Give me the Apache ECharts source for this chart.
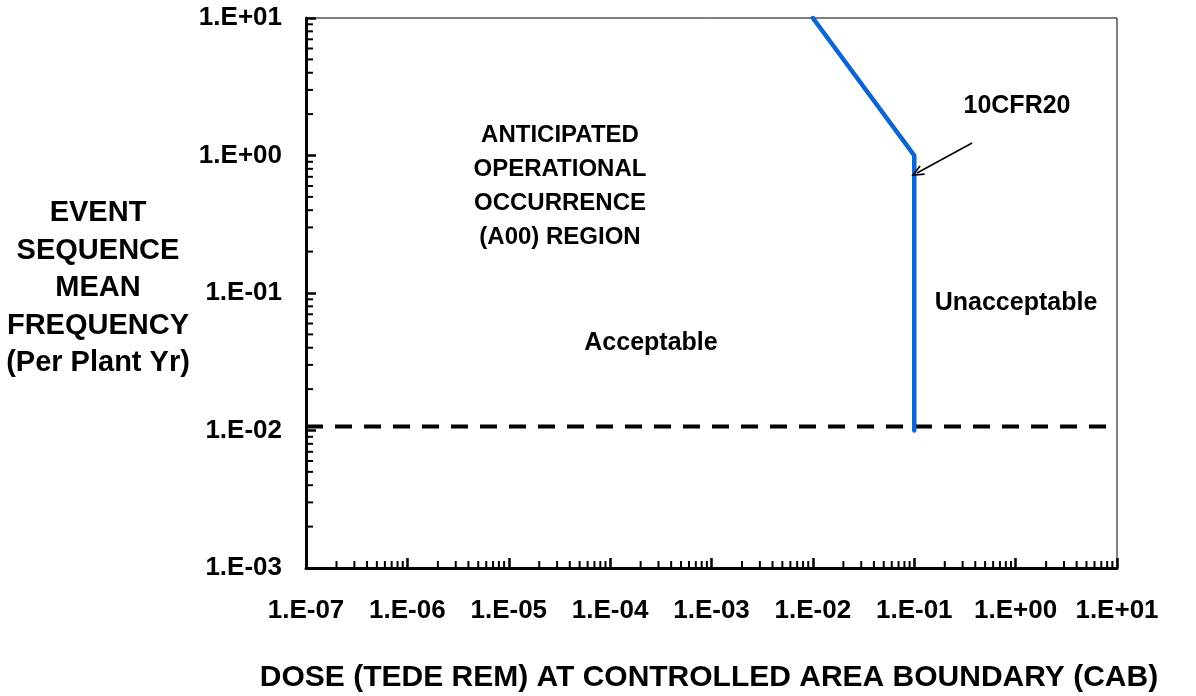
<!DOCTYPE html>
<html>
<head>
<meta charset="utf-8">
<script src="https://cdn.jsdelivr.net/npm/echarts@6/dist/echarts.min.js"></script>
<style>
  html, body { margin: 0; padding: 0; background: #fff; }
  #chart { width: 1196px; height: 696px; }
</style>
</head>
<body>
<div id="chart"></div>
<script>
// Dose axis (rem) and frequency axis (per plant year) ranges
const doseRange = [1e-7, 10];
const freqRange = [1e-3, 10];

// 10CFR20 limit line: dose vs. frequency
const limitDose = [0.01, 0.1, 0.1];
const limitFreq = [10, 1, 0.01];

// AOO frequency cut-off (dashed)
const aooDose = [1e-7, 10];
const aooFreq = [0.0107, 0.0107];

// Arrow pointing at the 10CFR20 corner: tail, head
const arrowDose = [0.372, 0.1064];
const arrowFreq = [1.233, 0.746];

// Decades and the in-between multipliers used for the minor tick marks
const doseDecades = [1e-7, 1e-6, 1e-5, 1e-4, 1e-3, 1e-2, 1e-1, 1];
const freqDecades = [1e-3, 1e-2, 1e-1, 1];
const minorSteps = [2, 3, 4, 5, 6, 7, 8, 9];

const FONT = "'Liberation Sans', Arial, Helvetica, sans-serif";

function sciLabel(v) {
  const e = Math.round(Math.log10(v));
  const s = e < 0 ? '-' : '+';
  return '1.E' + s + String(Math.abs(e)).padStart(2, '0');
}

const xMinor = [];
doseDecades.forEach(d => minorSteps.forEach(m => xMinor.push([d * m, freqRange[0]])));
const yMinor = [];
freqDecades.forEach(d => minorSteps.forEach(m => yMinor.push([doseRange[0], d * m])));

const chart = echarts.init(document.getElementById('chart'), null, { renderer: 'canvas' });

const option = {
  animation: false,
  backgroundColor: '#fff',
  grid: {
    left: 306, right: 79, top: 18, bottom: 128,
    show: true, borderColor: '#000', borderWidth: 1, backgroundColor: 'transparent'
  },
  xAxis: {
    type: 'log', logBase: 10, min: doseRange[0], max: doseRange[1], splitNumber: 8,
    axisLine: { show: true, lineStyle: { color: '#000', width: 3 } },
    axisTick: { show: true, inside: true, length: 10, lineStyle: { color: '#000', width: 2.5 } },
    splitLine: { show: false },
    axisLabel: {
      formatter: sciLabel, margin: 30, color: '#000',
      fontFamily: FONT, fontWeight: 'bold', fontSize: 26
    }
  },
  yAxis: {
    type: 'log', logBase: 10, min: freqRange[0], max: freqRange[1], splitNumber: 4,
    axisLine: { show: true, lineStyle: { color: '#000', width: 3 } },
    axisTick: { show: true, inside: true, length: 10, lineStyle: { color: '#000', width: 2.5 } },
    splitLine: { show: false },
    axisLabel: {
      formatter: sciLabel, margin: 24, color: '#000',
      fontFamily: FONT, fontWeight: 'bold', fontSize: 26
    }
  },
  series: [
    {
      name: 'AOO cut-off',
      type: 'line',
      data: aooDose.map((d, i) => [d, aooFreq[i]]),
      showSymbol: false,
      lineStyle: { color: '#000', width: 4, type: [17, 12] },
      z: 3
    },
    {
      name: '10CFR20',
      type: 'line',
      data: limitDose.map((d, i) => [d, limitFreq[i]]),
      showSymbol: false,
      lineStyle: { color: '#0b66d3', width: 4.5, cap: 'round', join: 'miter' },
      z: 4,
      markLine: {
        silent: true,
        symbol: ['none', 'path://M0,10 L5,0 L10,10 L8.6,10.6 L5,3 L1.4,10.6 Z'],
        symbolSize: [11, 13],
        label: { show: false },
        lineStyle: { color: '#000', width: 1.6, type: 'solid' },
        data: [[
          { coord: [arrowDose[0], arrowFreq[0]] },
          { coord: [arrowDose[1], arrowFreq[1]] }
        ]]
      }
    },
    {
      name: 'dose minor ticks',
      type: 'custom',
      silent: true,
      z: 5,
      data: xMinor,
      renderItem: function (params, api) {
        const p = api.coord([api.value(0), api.value(1)]);
        return { type: 'line', shape: { x1: p[0], y1: p[1], x2: p[0], y2: p[1] - 7 },
                 style: { stroke: '#000', lineWidth: 2 } };
      }
    },
    {
      name: 'frequency minor ticks',
      type: 'custom',
      silent: true,
      z: 5,
      data: yMinor,
      renderItem: function (params, api) {
        const p = api.coord([api.value(0), api.value(1)]);
        return { type: 'line', shape: { x1: p[0], y1: p[1], x2: p[0] + 7, y2: p[1] },
                 style: { stroke: '#000', lineWidth: 2 } };
      }
    }
  ],
  graphic: [
    {
      type: 'text', left: null, x: 98, y: 288,
      style: {
        text: 'EVENT\nSEQUENCE\nMEAN\nFREQUENCY\n(Per Plant Yr)',
        x: 0, y: 0, align: 'center', verticalAlign: 'middle',
        font: 'bold 29px ' + FONT, lineHeight: 37.5, fill: '#000'
      }
    },
    {
      type: 'text', x: 709, y: 678,
      style: {
        text: 'DOSE (TEDE REM) AT CONTROLLED AREA BOUNDARY (CAB)',
        align: 'center', verticalAlign: 'middle',
        font: 'bold 30px ' + FONT, fill: '#000'
      }
    },
    {
      type: 'text', x: 560, y: 186,
      style: {
        text: 'ANTICIPATED\nOPERATIONAL\nOCCURRENCE\n(A00) REGION',
        align: 'center', verticalAlign: 'middle',
        font: 'bold 24px ' + FONT, lineHeight: 34, fill: '#000'
      }
    },
    {
      type: 'text', x: 651, y: 343,
      style: { text: 'Acceptable', align: 'center', verticalAlign: 'middle',
               font: 'bold 25px ' + FONT, fill: '#000' }
    },
    {
      type: 'text', x: 1016, y: 303,
      style: { text: 'Unacceptable', align: 'center', verticalAlign: 'middle',
               font: 'bold 25px ' + FONT, fill: '#000' }
    },
    {
      type: 'text', x: 1017, y: 106,
      style: { text: '10CFR20', align: 'center', verticalAlign: 'middle',
               font: 'bold 25px ' + FONT, fill: '#000' }
    }
  ]
};

chart.setOption(option);
</script>
</body>
</html>
